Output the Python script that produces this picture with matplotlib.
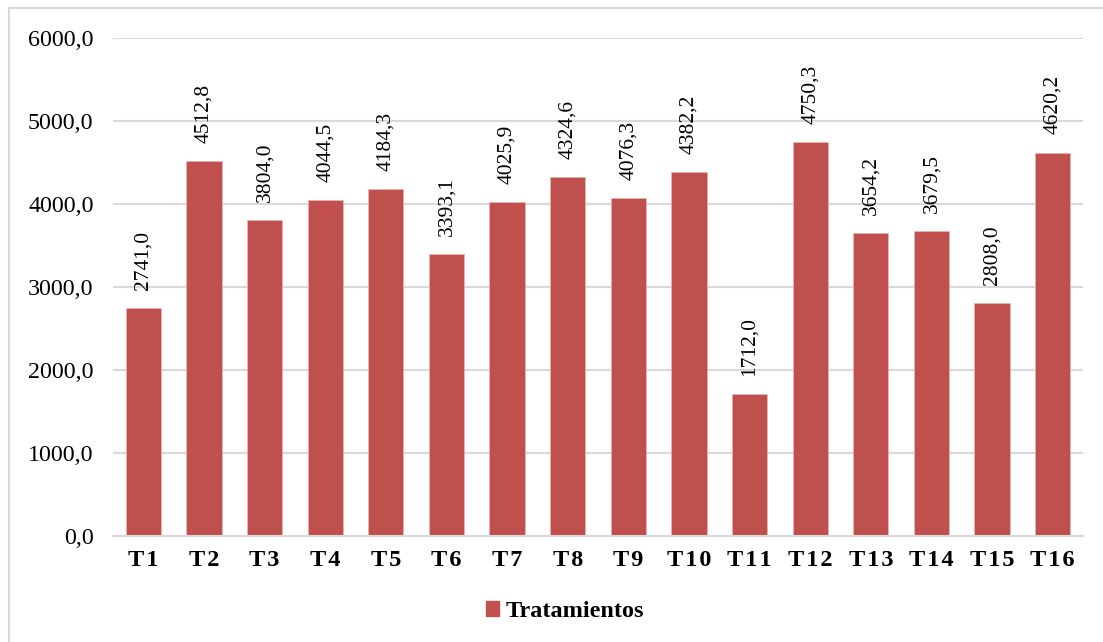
import matplotlib
matplotlib.use("Agg")
import matplotlib.pyplot as plt
from matplotlib.patches import Rectangle, Patch

plt.rcParams['font.family'] = ['Liberation Serif', 'DejaVu Serif']

categories = ["T1", "T2", "T3", "T4", "T5", "T6", "T7", "T8",
              "T9", "T10", "T11", "T12", "T13", "T14", "T15", "T16"]
values = [2741.0, 4512.8, 3804.0, 4044.5, 4184.3, 3393.1, 4025.9, 4324.6,
          4076.3, 4382.2, 1712.0, 4750.3, 3654.2, 3679.5, 2808.0, 4620.2]
series_name = "Tratamientos"
yticks = [0, 1000, 2000, 3000, 4000, 5000, 6000]

bar_color = "#C0504D"
grid_color = "#D9D9D9"

fig = plt.figure(figsize=(11.03, 6.42), dpi=100)
fig.patches.append(Rectangle((9/1103, -0.1), 1.2, 0.1 + 1 - 8/642,
                             transform=fig.transFigure, fill=False,
                             edgecolor=grid_color, linewidth=1.5))
ax = fig.add_axes([113/1103, 1 - 536/642, (1083 - 113)/1103, (536 - 38)/642])

x = list(range(len(categories)))
bars = ax.bar(x, values, width=0.58, color=bar_color, edgecolor="#E8B4B2",
              linewidth=0.6, zorder=3)

for xi, v in zip(x, values):
    ax.annotate(f"{v:.1f}".replace(".", ","), (xi, v), xytext=(0, 13),
                textcoords="offset points", rotation=90, ha="center",
                va="bottom", fontsize=15.5, zorder=4)

ax.set_xlim(-0.5, len(categories) - 0.5)
ax.set_ylim(0, 6000)
ax.set_yticks(yticks)
ax.set_yticklabels([f"{t:.1f}".replace(".", ",") for t in yticks], fontsize=17.3)
ax.set_xticks(x)
ax.set_xticklabels(["\u200a".join(c) for c in categories], fontsize=17.5,
                   fontweight="bold")
ax.tick_params(axis="y", length=0, pad=14)
ax.tick_params(axis="x", length=0, pad=10)
ax.grid(axis="y", color=grid_color, linewidth=1.5, zorder=0)
for side in ["top", "right", "left"]:
    ax.spines[side].set_visible(False)
ax.spines["bottom"].set_color(grid_color)
ax.spines["bottom"].set_linewidth(1.5)
ax.spines["bottom"].set_zorder(5)

handle = Patch(facecolor=bar_color, edgecolor=bar_color)
fig.legend([handle], [series_name], loc="center", bbox_to_anchor=(0.512, 0.047),
           frameon=False, prop={"size": 17.5, "weight": "bold"},
           handlelength=0.55, handleheight=0.55, handletextpad=0.25)

fig.savefig("out.png", dpi=100, facecolor="white")
